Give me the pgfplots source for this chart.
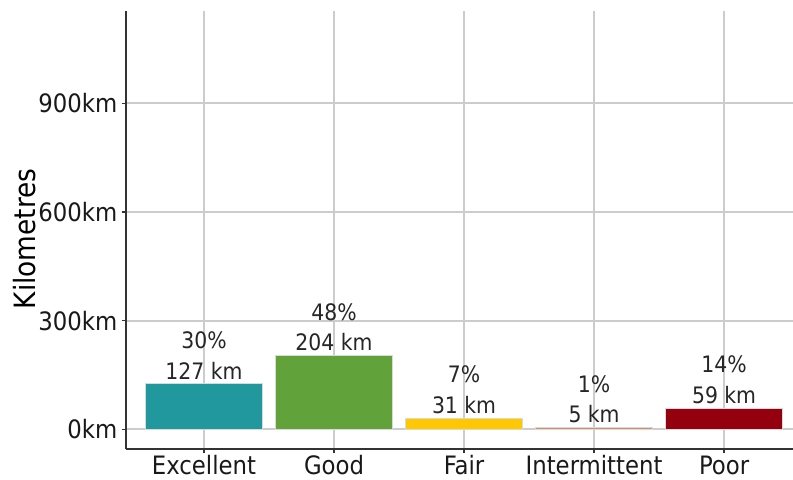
\documentclass[border=0pt]{standalone}
\usepackage{fontspec}
\setmainfont{DejaVu Sans Condensed}
\usepackage{pgfplots}
\pgfplotsset{compat=1.18}
\definecolor{cExc}{HTML}{21979E}
\definecolor{cGood}{HTML}{61A33A}
\definecolor{cFair}{HTML}{FFC800}
\definecolor{cInt}{HTML}{D4906A}
\definecolor{cPoor}{HTML}{95000F}
\definecolor{gridc}{HTML}{CCCCCC}
\definecolor{axc}{HTML}{333333}
\begin{document}
\begin{tikzpicture}
\path[use as bounding box] (-94.5pt,-22.3pt) rectangle (500.25pt,336.95pt);
\begin{axis}[
  at={(0,0)}, anchor=south west,
  scale only axis, width=500.25pt, height=328.7pt,
  xmin=0.4, xmax=5.53, ymin=-55, ymax=1155,
  axis x line*=bottom, axis y line*=left,
  axis line style={axc, line width=1.3pt},
  xtick={1,2,3,4,5},
  xticklabels={Excellent,Good,Fair,Intermittent,Poor},
  ytick={0,300,600,900},
  yticklabels={0km,300km,600km,900km},
  tick align=outside, major tick length=3pt,
  tick style={axc, line width=1pt},
  grid=major, grid style={gridc, line width=1.3pt},
  ticklabel style={font=\fontsize{19}{22}\selectfont, black!90},
  xticklabel style={inner ysep=0.5pt, yshift=-1pt},
  ylabel={Kilometres},
  every axis y label/.style={at={(axis description cs:-0.1515,0.48)}, rotate=90, anchor=center, font=\fontsize{22}{26}\selectfont},
  point meta=explicit symbolic,
  nodes near coords,
  every node near coord/.append style={align=center, anchor=south, inner xsep=0pt, inner ysep=3pt, font=\fontsize{17}{23}\selectfont, black!85},
]
\addplot[ybar, bar width=0.9, bar shift=0pt, fill=cExc, draw=white!85!black] coordinates {(1,127) [{30\%\\127 km}]};
\addplot[ybar, bar width=0.9, bar shift=0pt, fill=cGood, draw=white!85!black] coordinates {(2,204) [{48\%\\204 km}]};
\addplot[ybar, bar width=0.9, bar shift=0pt, fill=cFair, draw=white!85!black] coordinates {(3,31) [{7\%\\31 km}]};
\addplot[ybar, bar width=0.9, bar shift=0pt, fill=cInt, draw=white!85!black] coordinates {(4,5) [{1\%\\5 km}]};
\addplot[ybar, bar width=0.9, bar shift=0pt, fill=cPoor, draw=white!85!black] coordinates {(5,59) [{14\%\\59 km}]};
\end{axis}
\end{tikzpicture}
\end{document}
